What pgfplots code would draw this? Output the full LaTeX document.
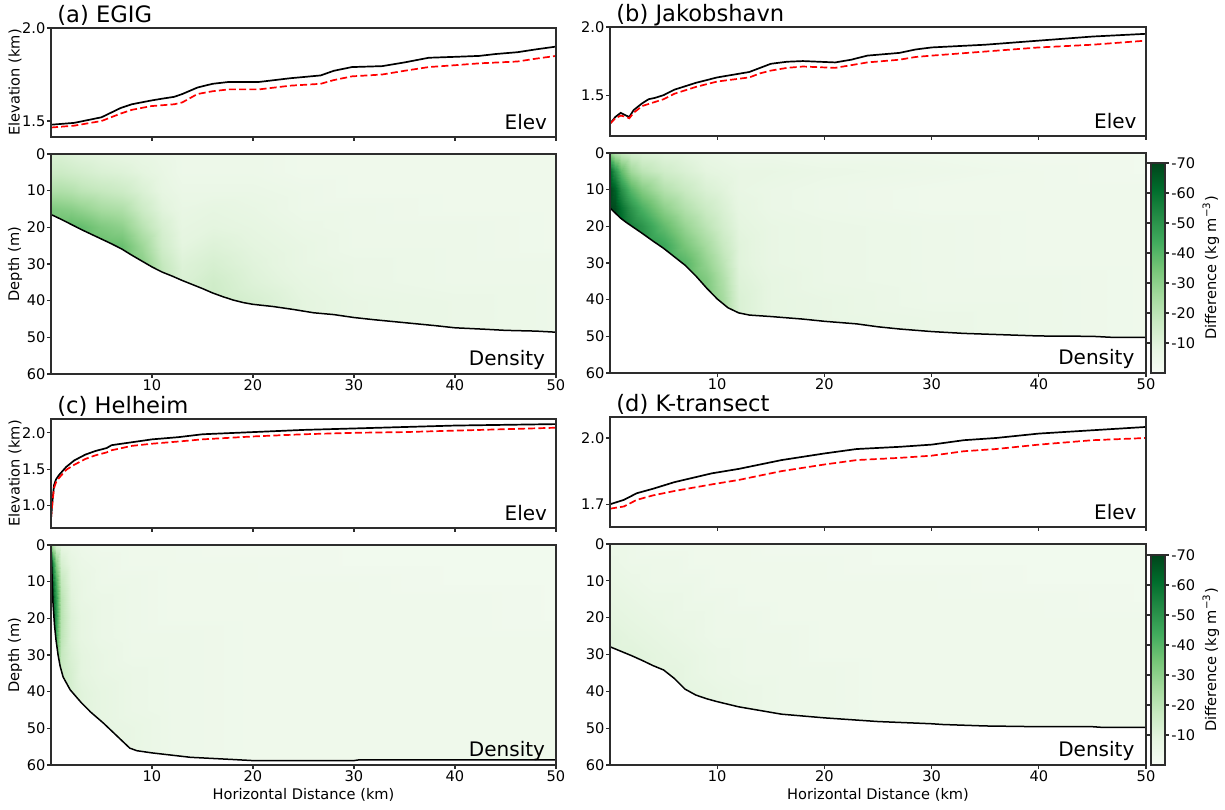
\documentclass[border=0pt]{standalone}
\usepackage{fontspec}
\setmainfont{DejaVu Sans}
\usepackage{pgfplots}
\pgfplotsset{compat=1.18}
\usepackage{pgfplotstable}

\definecolor{spine}{RGB}{45,45,45}

% matplotlib "Greens", reversed so that -70 is the darkest shade
\pgfplotsset{colormap={greensr}{rgb255=(0,68,27) rgb255=(0,109,44) rgb255=(35,139,69)
  rgb255=(65,171,93) rgb255=(116,196,118) rgb255=(161,217,155) rgb255=(199,233,192)
  rgb255=(229,245,224) rgb255=(247,252,245)}}

\newcommand{\smallfont}{\fontsize{7.3}{8.5}\selectfont}

\pgfplotsset{
  panel/.style={
    scale only axis, axis on top,
    axis line style={spine, line width=0.6pt},
    every tick/.style={spine, line width=0.6pt},
    major tick length=1.8pt, tick align=outside,
    xtick pos=bottom, ytick pos=left,
    xmin=0, xmax=50, xtick={10,20,30,40,50},
    tick label style={font=\smallfont},
    xticklabel style={inner sep=0.6pt},
    yticklabel style={inner sep=0.8pt},
    label style={font=\smallfont},
    /pgf/number format/assume math mode=true,
    ylabel style={at={(axis description cs:-0.071,0.5)}, anchor=center},
    every axis title/.style={at={(axis description cs:0,1)}, anchor=base west, inner sep=0,
      xshift=3pt, yshift=3pt, font=\fontsize{11.3}{13}\selectfont},
  },
  elev/.style={panel, height=54.5pt, xticklabels={},
    yticklabel style={/pgf/number format/.cd, fixed, fixed zerofill, precision=1}},
  dens/.style={panel, height=110pt, y dir=reverse, ymin=0, ymax=60,
    ytick={0,10,20,30,40,50,60}, colormap name=greensr,
    point meta min=-70, point meta max=0},
  cbar/.style={colorbar, colorbar style={
    at={(parent axis.south east)}, anchor=south west, xshift=-6.03pt,
    scale only axis, width=7pt, height=105pt, y dir=reverse,
    axis line style={spine, line width=0.6pt},
    every tick/.style={spine, line width=0.6pt},
    major tick length=1.8pt, tick align=outside,
    ytick={-70,-60,-50,-40,-30,-20,-10},
    yticklabels={-70,-60,-50,-40,-30,-20,-10},
    yticklabel pos=right, tick label style={font=\smallfont},
    yticklabel style={inner sep=1.2pt},
    ylabel={Difference (kg m\textsuperscript{−3})},
    ylabel style={font=\smallfont, at={(axis description cs:4.28,0.5)}, anchor=center}}},
  blackline/.style={black, line width=0.85pt},
  redline/.style={red, line width=0.85pt, dash pattern=on 3.5pt off 1.6pt},
  bline/.style={black, line width=0.75pt},
}

\newcommand{\elevtag}{\node[anchor=base east, inner sep=0, font=\fontsize{10}{12}\selectfont] at (rel axis cs:0.983,0.07) {Elev};}
\newcommand{\denstag}{\node[anchor=base east, inner sep=0, font=\fontsize{10}{12}\selectfont] at (rel axis cs:0.979,0.04) {Density};}

% ---------- density difference fields (kg m^-3), x = distance (km), d = depth (m)
\pgfplotstableread[row sep=\\]{
x d v\\
0 0 -12\\ 1 0 -12\\ 2 0 -11\\ 3 0 -10\\ 5 0 -9\\ 7 0 -8\\ 9 0 -7\\ 11 0 -6\\ 13 0 -5\\ 16 0 -5\\ 20 0 -5\\ 25 0 -4\\ 30 0 -4\\ 40 0 -4\\ 50 0 -4\\
0 5 -16\\ 1 5 -16\\ 2 5 -15\\ 3 5 -14\\ 5 5 -12\\ 7 5 -11\\ 9 5 -9\\ 11 5 -7\\ 13 5 -5\\ 16 5 -5\\ 20 5 -5\\ 25 5 -4\\ 30 5 -4\\ 40 5 -4\\ 50 5 -4\\
0 10 -23\\ 1 10 -23\\ 2 10 -22\\ 3 10 -20\\ 5 10 -18\\ 7 10 -16\\ 9 10 -12\\ 11 10 -8\\ 13 10 -6\\ 16 10 -6\\ 20 10 -6\\ 25 10 -5\\ 30 10 -4\\ 40 10 -4\\ 50 10 -4\\
0 15 -33\\ 1 15 -32\\ 2 15 -31\\ 3 15 -29\\ 5 15 -25\\ 7 15 -23\\ 9 15 -16\\ 11 15 -10\\ 13 15 -7\\ 16 15 -8\\ 20 15 -7\\ 25 15 -5\\ 30 15 -5\\ 40 15 -4\\ 50 15 -4\\
0 20 -36\\ 1 20 -38\\ 2 20 -39\\ 3 20 -38\\ 5 20 -33\\ 7 20 -30\\ 9 20 -21\\ 11 20 -13\\ 13 20 -8\\ 16 20 -9\\ 20 20 -8\\ 25 20 -6\\ 30 20 -5\\ 40 20 -5\\ 50 20 -4\\
0 25 -36\\ 1 25 -38\\ 2 25 -39\\ 3 25 -39\\ 5 25 -38\\ 7 25 -37\\ 9 25 -27\\ 11 25 -15\\ 13 25 -9\\ 16 25 -11\\ 20 25 -9\\ 25 25 -7\\ 30 25 -5\\ 40 25 -5\\ 50 25 -4\\
0 30 -36\\ 1 30 -38\\ 2 30 -39\\ 3 30 -39\\ 5 30 -38\\ 7 30 -38\\ 9 30 -31\\ 11 30 -18\\ 13 30 -11\\ 16 30 -13\\ 20 30 -10\\ 25 30 -7\\ 30 30 -6\\ 40 30 -5\\ 50 30 -5\\
0 35 -36\\ 1 35 -38\\ 2 35 -39\\ 3 35 -39\\ 5 35 -38\\ 7 35 -38\\ 9 35 -31\\ 11 35 -20\\ 13 35 -12\\ 16 35 -15\\ 20 35 -11\\ 25 35 -8\\ 30 35 -6\\ 40 35 -5\\ 50 35 -5\\
0 40 -36\\ 1 40 -38\\ 2 40 -39\\ 3 40 -39\\ 5 40 -38\\ 7 40 -38\\ 9 40 -31\\ 11 40 -20\\ 13 40 -12\\ 16 40 -16\\ 20 40 -13\\ 25 40 -9\\ 30 40 -7\\ 40 40 -6\\ 50 40 -5\\
0 45 -36\\ 1 45 -38\\ 2 45 -39\\ 3 45 -39\\ 5 45 -38\\ 7 45 -38\\ 9 45 -31\\ 11 45 -20\\ 13 45 -12\\ 16 45 -16\\ 20 45 -13\\ 25 45 -9\\ 30 45 -7\\ 40 45 -6\\ 50 45 -5\\
0 50 -36\\ 1 50 -38\\ 2 50 -39\\ 3 50 -39\\ 5 50 -38\\ 7 50 -38\\ 9 50 -31\\ 11 50 -20\\ 13 50 -12\\ 16 50 -16\\ 20 50 -13\\ 25 50 -9\\ 30 50 -7\\ 40 50 -6\\ 50 50 -5\\
}\gridA

\pgfplotstableread[row sep=\\]{
x d v\\
0 0 -30\\ 0.5 0 -22\\ 1 0 -18\\ 2 0 -14\\ 3 0 -12\\ 5 0 -10\\ 7 0 -9\\ 9 0 -7\\ 10.5 0 -6\\ 12 0 -5\\ 15 0 -5\\ 20 0 -4\\ 30 0 -4\\ 40 0 -3\\ 50 0 -3\\
0 5 -62\\ 0.5 5 -50\\ 1 5 -38\\ 2 5 -26\\ 3 5 -20\\ 5 5 -15\\ 7 5 -12\\ 9 5 -9\\ 10.5 5 -8\\ 12 5 -7\\ 15 5 -7\\ 20 5 -6\\ 30 5 -5\\ 40 5 -4\\ 50 5 -3\\
0 10 -70\\ 0.5 10 -64\\ 1 10 -52\\ 2 10 -40\\ 3 10 -32\\ 5 10 -22\\ 7 10 -17\\ 9 10 -12\\ 10.5 10 -10\\ 12 10 -7\\ 15 10 -6\\ 20 10 -5\\ 30 10 -4\\ 40 10 -4\\ 50 10 -4\\
0 15 -70\\ 0.5 15 -68\\ 1 15 -60\\ 2 15 -50\\ 3 15 -42\\ 5 15 -30\\ 7 15 -22\\ 9 15 -16\\ 10.5 15 -12\\ 12 15 -8\\ 15 15 -6\\ 20 15 -5\\ 30 15 -4\\ 40 15 -4\\ 50 15 -4\\
0 20 -70\\ 0.5 20 -68\\ 1 20 -62\\ 2 20 -55\\ 3 20 -50\\ 5 20 -38\\ 7 20 -28\\ 9 20 -20\\ 10.5 20 -14\\ 12 20 -9\\ 15 20 -7\\ 20 20 -6\\ 30 20 -5\\ 40 20 -4\\ 50 20 -4\\
0 25 -70\\ 0.5 25 -68\\ 1 25 -62\\ 2 25 -55\\ 3 25 -52\\ 5 25 -45\\ 7 25 -34\\ 9 25 -25\\ 10.5 25 -17\\ 12 25 -10\\ 15 25 -7\\ 20 25 -6\\ 30 25 -5\\ 40 25 -4\\ 50 25 -4\\
0 30 -70\\ 0.5 30 -68\\ 1 30 -62\\ 2 30 -55\\ 3 30 -52\\ 5 30 -46\\ 7 30 -40\\ 9 30 -29\\ 10.5 30 -20\\ 12 30 -10\\ 15 30 -7\\ 20 30 -6\\ 30 30 -5\\ 40 30 -4\\ 50 30 -4\\
0 35 -70\\ 0.5 35 -68\\ 1 35 -62\\ 2 35 -55\\ 3 35 -52\\ 5 35 -46\\ 7 35 -40\\ 9 35 -33\\ 10.5 35 -23\\ 12 35 -11\\ 15 35 -8\\ 20 35 -6\\ 30 35 -5\\ 40 35 -5\\ 50 35 -4\\
0 40 -70\\ 0.5 40 -68\\ 1 40 -62\\ 2 40 -55\\ 3 40 -52\\ 5 40 -46\\ 7 40 -40\\ 9 40 -34\\ 10.5 40 -25\\ 12 40 -12\\ 15 40 -8\\ 20 40 -7\\ 30 40 -5\\ 40 40 -5\\ 50 40 -4\\
0 45 -70\\ 0.5 45 -68\\ 1 45 -62\\ 2 45 -55\\ 3 45 -52\\ 5 45 -46\\ 7 45 -40\\ 9 45 -34\\ 10.5 45 -25\\ 12 45 -12\\ 15 45 -8\\ 20 45 -7\\ 30 45 -6\\ 40 45 -5\\ 50 45 -4\\
0 50 -70\\ 0.5 50 -68\\ 1 50 -62\\ 2 50 -55\\ 3 50 -52\\ 5 50 -46\\ 7 50 -40\\ 9 50 -34\\ 10.5 50 -25\\ 12 50 -12\\ 15 50 -8\\ 20 50 -7\\ 30 50 -6\\ 40 50 -5\\ 50 50 -4\\
0 55 -70\\ 0.5 55 -68\\ 1 55 -62\\ 2 55 -55\\ 3 55 -52\\ 5 55 -46\\ 7 55 -40\\ 9 55 -34\\ 10.5 55 -25\\ 12 55 -12\\ 15 55 -8\\ 20 55 -7\\ 30 55 -6\\ 40 55 -5\\ 50 55 -4\\
}\gridB

\pgfplotstableread[row sep=\\]{
x d v\\
0 0 -30\\ 0.2 0 -20\\ 0.5 0 -12\\ 1 0 -8\\ 2 0 -6\\ 3 0 -5\\ 5 0 -4\\ 8 0 -4\\ 12 0 -4\\ 20 0 -3\\ 30 0 -3\\ 40 0 -3\\ 50 0 -3\\
0 5 -62\\ 0.2 5 -50\\ 0.5 5 -30\\ 1 5 -13\\ 2 5 -8\\ 3 5 -6\\ 5 5 -5\\ 8 5 -4\\ 12 5 -4\\ 20 5 -4\\ 30 5 -3\\ 40 5 -3\\ 50 5 -3\\
0 10 -70\\ 0.2 10 -60\\ 0.5 10 -42\\ 1 10 -18\\ 2 10 -9\\ 3 10 -7\\ 5 10 -5\\ 8 10 -5\\ 12 10 -4\\ 20 10 -4\\ 30 10 -4\\ 40 10 -3\\ 50 10 -3\\
0 15 -70\\ 0.2 15 -62\\ 0.5 15 -48\\ 1 15 -21\\ 2 15 -10\\ 3 15 -7\\ 5 15 -6\\ 8 15 -5\\ 12 15 -4\\ 20 15 -4\\ 30 15 -4\\ 40 15 -4\\ 50 15 -3\\
0 20 -70\\ 0.2 20 -62\\ 0.5 20 -48\\ 1 20 -21\\ 2 20 -11\\ 3 20 -8\\ 5 20 -6\\ 8 20 -5\\ 12 20 -4\\ 20 20 -4\\ 30 20 -4\\ 40 20 -4\\ 50 20 -3\\
0 25 -68\\ 0.2 25 -60\\ 0.5 25 -44\\ 1 25 -20\\ 2 25 -11\\ 3 25 -8\\ 5 25 -6\\ 8 25 -5\\ 12 25 -5\\ 20 25 -4\\ 30 25 -4\\ 40 25 -4\\ 50 25 -4\\
0 30 -65\\ 0.2 30 -58\\ 0.5 30 -40\\ 1 30 -18\\ 2 30 -12\\ 3 30 -9\\ 5 30 -7\\ 8 30 -5\\ 12 30 -5\\ 20 30 -4\\ 30 30 -4\\ 40 30 -4\\ 50 30 -4\\
0 35 -65\\ 0.2 35 -58\\ 0.5 35 -40\\ 1 35 -17\\ 2 35 -13\\ 3 35 -9\\ 5 35 -7\\ 8 35 -6\\ 12 35 -5\\ 20 35 -4\\ 30 35 -4\\ 40 35 -4\\ 50 35 -4\\
0 40 -65\\ 0.2 40 -58\\ 0.5 40 -40\\ 1 40 -17\\ 2 40 -13\\ 3 40 -10\\ 5 40 -8\\ 8 40 -6\\ 12 40 -5\\ 20 40 -4\\ 30 40 -4\\ 40 40 -4\\ 50 40 -4\\
0 45 -65\\ 0.2 45 -58\\ 0.5 45 -40\\ 1 45 -17\\ 2 45 -13\\ 3 45 -10\\ 5 45 -8\\ 8 45 -6\\ 12 45 -5\\ 20 45 -4\\ 30 45 -4\\ 40 45 -4\\ 50 45 -4\\
0 50 -65\\ 0.2 50 -58\\ 0.5 50 -40\\ 1 50 -17\\ 2 50 -13\\ 3 50 -10\\ 5 50 -8\\ 8 50 -7\\ 12 50 -5\\ 20 50 -4\\ 30 50 -4\\ 40 50 -4\\ 50 50 -4\\
0 55 -65\\ 0.2 55 -58\\ 0.5 55 -40\\ 1 55 -17\\ 2 55 -13\\ 3 55 -10\\ 5 55 -8\\ 8 55 -7\\ 12 55 -5\\ 20 55 -4\\ 30 55 -4\\ 40 55 -4\\ 50 55 -4\\
0 60 -65\\ 0.2 60 -58\\ 0.5 60 -40\\ 1 60 -17\\ 2 60 -13\\ 3 60 -10\\ 5 60 -8\\ 8 60 -7\\ 12 60 -5\\ 20 60 -4\\ 30 60 -4\\ 40 60 -4\\ 50 60 -4\\
}\gridC

\pgfplotstableread[row sep=\\]{
x d v\\
0 0 -5\\ 2 0 -5\\ 4 0 -4\\ 6 0 -4\\ 8 0 -4\\ 10 0 -4\\ 13 0 -4\\ 16 0 -3\\ 20 0 -3\\ 25 0 -3\\ 30 0 -3\\ 40 0 -3\\ 50 0 -3\\
0 5 -6\\ 2 5 -5\\ 4 5 -5\\ 6 5 -5\\ 8 5 -4\\ 10 5 -4\\ 13 5 -4\\ 16 5 -4\\ 20 5 -4\\ 25 5 -3\\ 30 5 -3\\ 40 5 -3\\ 50 5 -3\\
0 10 -7\\ 2 10 -6\\ 4 10 -5\\ 6 10 -5\\ 8 10 -5\\ 10 10 -4\\ 13 10 -4\\ 16 10 -4\\ 20 10 -4\\ 25 10 -4\\ 30 10 -4\\ 40 10 -3\\ 50 10 -3\\
0 15 -8\\ 2 15 -7\\ 4 15 -6\\ 6 15 -6\\ 8 15 -5\\ 10 15 -5\\ 13 15 -4\\ 16 15 -4\\ 20 15 -4\\ 25 15 -4\\ 30 15 -4\\ 40 15 -4\\ 50 15 -3\\
0 20 -9\\ 2 20 -8\\ 4 20 -7\\ 6 20 -6\\ 8 20 -6\\ 10 20 -5\\ 13 20 -5\\ 16 20 -4\\ 20 20 -4\\ 25 20 -4\\ 30 20 -4\\ 40 20 -4\\ 50 20 -4\\
0 25 -10\\ 2 25 -9\\ 4 25 -8\\ 6 25 -7\\ 8 25 -6\\ 10 25 -5\\ 13 25 -5\\ 16 25 -5\\ 20 25 -4\\ 25 25 -4\\ 30 25 -4\\ 40 25 -4\\ 50 25 -4\\
0 30 -10\\ 2 30 -10\\ 4 30 -9\\ 6 30 -8\\ 8 30 -7\\ 10 30 -6\\ 13 30 -5\\ 16 30 -5\\ 20 30 -4\\ 25 30 -4\\ 30 30 -4\\ 40 30 -4\\ 50 30 -4\\
0 35 -10\\ 2 35 -10\\ 4 35 -9\\ 6 35 -9\\ 8 35 -7\\ 10 35 -6\\ 13 35 -5\\ 16 35 -5\\ 20 35 -5\\ 25 35 -4\\ 30 35 -4\\ 40 35 -4\\ 50 35 -4\\
0 40 -10\\ 2 40 -10\\ 4 40 -9\\ 6 40 -9\\ 8 40 -8\\ 10 40 -7\\ 13 40 -6\\ 16 40 -5\\ 20 40 -5\\ 25 40 -4\\ 30 40 -4\\ 40 40 -4\\ 50 40 -4\\
0 45 -10\\ 2 45 -10\\ 4 45 -9\\ 6 45 -9\\ 8 45 -8\\ 10 45 -7\\ 13 45 -6\\ 16 45 -5\\ 20 45 -5\\ 25 45 -4\\ 30 45 -4\\ 40 45 -4\\ 50 45 -4\\
0 50 -10\\ 2 50 -10\\ 4 50 -9\\ 6 50 -9\\ 8 50 -8\\ 10 50 -7\\ 13 50 -6\\ 16 50 -5\\ 20 50 -5\\ 25 50 -4\\ 30 50 -4\\ 40 50 -4\\ 50 50 -4\\
}\gridD

% ---------- depth of the firn base (m) along each transect
\pgfplotstableread[row sep=\\]{
x d\\ 0 16.5\\ 1 17.8\\ 2 19.2\\ 3 20.6\\ 4 21.9\\ 5 23.2\\ 6 24.5\\ 7 25.9\\ 8 27.6\\ 9 29.2\\ 10 30.8\\ 11 32.2\\ 12 33.3\\ 13 34.5\\ 14 35.6\\ 15 36.7\\ 16 37.9\\ 17 38.9\\ 18 39.8\\ 19 40.5\\ 20 41.0\\ 22 41.6\\ 24 42.4\\ 26 43.3\\ 28 43.8\\ 30 44.6\\ 32 45.2\\ 35 46.0\\ 38 46.8\\ 40 47.4\\ 43 47.8\\ 45 48.1\\ 48 48.3\\ 50 48.6\\
}\bndA
\pgfplotstableread[row sep=\\]{
x d\\ 0 15.0\\ 0.5 16.4\\ 1 17.8\\ 1.5 18.9\\ 2 19.9\\ 3 21.9\\ 4 24.0\\ 5 26.0\\ 6 28.3\\ 7 30.6\\ 8 33.5\\ 9 36.8\\ 10 39.8\\ 11 42.2\\ 12 43.6\\ 13 44.2\\ 15 44.6\\ 18 45.3\\ 20 45.9\\ 23 46.6\\ 25 47.4\\ 27 48.0\\ 30 48.7\\ 33 49.2\\ 35 49.4\\ 40 49.9\\ 45 50.0\\ 47 50.3\\ 50 50.3\\
}\bndB
\pgfplotstableread[row sep=\\]{
x d\\ 0 0\\ 0.1 8\\ 0.2 16\\ 0.35 22\\ 0.5 26\\ 0.7 30\\ 0.9 33\\ 1.2 36\\ 1.9 39.5\\ 3 43\\ 3.9 45.5\\ 5.2 48.6\\ 6.5 52\\ 7.8 55.4\\ 8.5 56.1\\ 10 56.7\\ 13.8 57.9\\ 18 58.5\\ 20 58.8\\ 30 58.8\\ 30.5 58.6\\ 50 58.6\\
}\bndC
\pgfplotstableread[row sep=\\]{
x d\\ 0 27.9\\ 1 29.1\\ 2 30.3\\ 3 31.6\\ 4 33.0\\ 5 34.2\\ 6 36.5\\ 7 39.4\\ 8 41.0\\ 9 42.0\\ 10 42.8\\ 12 44.2\\ 14 45.2\\ 16 46.2\\ 18 46.7\\ 20 47.2\\ 25 48.2\\ 30 48.8\\ 31 49.0\\ 35 49.4\\ 40 49.6\\ 45 49.6\\ 46 49.8\\ 50 49.8\\
}\bndD

\begin{document}
\begin{tikzpicture}
\useasboundingbox (0,0) rectangle (612.5pt,-404.5pt);

% ================= (a) EGIG
\begin{axis}[elev, at={(25.5pt,-14pt)}, anchor=north west, width=252.5pt,
  ymin=1.414, ymax=2.0, ytick={1.5,2.0}, ylabel={Elevation (km)}, title={(a) EGIG}]
\addplot[blackline] coordinates {(0,1.48) (2.3,1.49) (5,1.52) (6.9,1.57) (8,1.59) (9.9,1.61) (11,1.62) (12.2,1.63) (13,1.645) (14.5,1.68) (16,1.70) (17.6,1.71) (20.6,1.71) (23.7,1.73) (26.7,1.745) (28,1.77) (29.8,1.79) (32.8,1.795) (35,1.815) (37.4,1.84) (40,1.845) (42.4,1.85) (44,1.86) (46.2,1.87) (48,1.885) (50,1.90)};
\addplot[redline] coordinates {(0,1.465) (2.3,1.475) (5,1.50) (6.9,1.54) (8,1.56) (9.9,1.58) (12.2,1.59) (13,1.60) (14.5,1.645) (16,1.66) (17.6,1.67) (20.6,1.67) (23.7,1.69) (26.7,1.70) (28,1.72) (29.8,1.74) (32.8,1.75) (35,1.77) (37.4,1.79) (40,1.80) (42.4,1.81) (46.2,1.82) (48,1.835) (50,1.85)};
\elevtag
\end{axis}

\begin{axis}[dens, at={(25.5pt,-77pt)}, anchor=north west, width=252.5pt, ylabel={Depth (m)}]
\addplot[surf, shader=interp, mesh/cols=15, point meta=explicit] table[x=x, y=d, meta=v] {\gridA};
\addplot[fill=white, draw=none] table[x=x, y=d] {\bndA} -- (axis cs:50,60) -- (axis cs:0,60) -- cycle;
\addplot[bline] table[x=x, y=d] {\bndA};
\denstag
\end{axis}

% ================= (b) Jakobshavn
\begin{axis}[elev, at={(305pt,-13.5pt)}, anchor=north west, width=268pt,
  ymin=1.2, ymax=2.0, ytick={1.5,2.0}, title={(b) Jakobshavn}]
\addplot[blackline] coordinates {(0,1.29) (0.5,1.34) (1,1.37) (1.5,1.35) (1.8,1.34) (2.2,1.39) (3,1.44) (3.6,1.47) (4.2,1.48) (5,1.50) (6,1.54) (8,1.59) (10,1.63) (11.5,1.65) (13,1.67) (14,1.70) (15,1.73) (16.5,1.745) (18,1.75) (21,1.74) (22.5,1.76) (24,1.79) (25.5,1.80) (27,1.81) (28.5,1.835) (30,1.85) (35,1.87) (40,1.90) (45,1.93) (50,1.95)};
\addplot[redline] coordinates {(0,1.29) (0.5,1.33) (1,1.35) (1.5,1.34) (1.8,1.33) (2.2,1.37) (3,1.42) (4.2,1.45) (5,1.47) (6,1.51) (8,1.56) (10,1.60) (11.5,1.615) (13,1.63) (14,1.66) (15,1.68) (16.5,1.70) (18,1.71) (21,1.70) (22.5,1.72) (24,1.74) (25.5,1.75) (27,1.76) (28.5,1.78) (30,1.79) (35,1.82) (40,1.85) (45,1.87) (50,1.90)};
\elevtag
\end{axis}

\begin{axis}[dens, cbar, at={(305pt,-76.5pt)}, anchor=north west, width=268pt]
\addplot[surf, shader=interp, mesh/cols=15, point meta=explicit] table[x=x, y=d, meta=v] {\gridB};
\addplot[fill=white, draw=none] table[x=x, y=d] {\bndB} -- (axis cs:50,60) -- (axis cs:0,60) -- cycle;
\addplot[bline] table[x=x, y=d] {\bndB};
\denstag
\end{axis}

% ================= (c) Helheim
\begin{axis}[elev, at={(25.5pt,-209.5pt)}, anchor=north west, width=252.5pt,
  ymin=0.69, ymax=2.19, ytick={1.0,1.5,2.0}, ylabel={Elevation (km)}, title={(c) Helheim}]
\addplot[blackline] coordinates {(0,0.82) (0.15,1.07) (0.3,1.28) (0.5,1.36) (0.8,1.42) (1.5,1.53) (2.3,1.62) (3.4,1.70) (4.4,1.75) (5.5,1.79) (6,1.83) (7,1.85) (8,1.87) (10,1.91) (12.6,1.94) (15,1.98) (20,2.01) (25,2.04) (30,2.06) (35,2.08) (40,2.10) (45,2.11) (50,2.12)};
\addplot[redline] coordinates {(0,0.82) (0.15,1.05) (0.3,1.24) (0.5,1.32) (0.8,1.38) (1.5,1.49) (2.3,1.56) (3.4,1.64) (4.4,1.69) (5.5,1.73) (6,1.76) (7,1.79) (8,1.82) (10,1.85) (12.6,1.88) (15,1.91) (20,1.95) (25,1.98) (30,2.00) (35,2.01) (40,2.03) (45,2.05) (50,2.07)};
\elevtag
\end{axis}

\begin{axis}[dens, at={(25.5pt,-272.5pt)}, anchor=north west, width=252.5pt,
  ylabel={Depth (m)}, xlabel={Horizontal Distance (km)},
  xlabel style={at={(axis description cs:0.5,0)}, yshift=-15pt, anchor=center}]
\addplot[surf, shader=interp, mesh/cols=13, point meta=explicit] table[x=x, y=d, meta=v] {\gridC};
\addplot[fill=white, draw=none] table[x=x, y=d] {\bndC} -- (axis cs:50,60) -- (axis cs:0,60) -- cycle;
\addplot[bline] table[x=x, y=d] {\bndC};
\denstag
\end{axis}

% ================= (d) K-transect
\begin{axis}[elev, at={(305pt,-208.5pt)}, anchor=north west, width=268pt, height=55pt,
  ymin=1.597, ymax=2.095, ytick={1.7,2.0}, title={(d) K-transect}]
\addplot[blackline] coordinates {(0,1.70) (1.3,1.72) (2.5,1.75) (4,1.77) (6,1.80) (9.5,1.84) (12,1.86) (14,1.88) (16,1.90) (20,1.93) (23,1.95) (27,1.96) (30,1.97) (33,1.99) (36,2.00) (40,2.02) (45,2.035) (50,2.05)};
\addplot[redline] coordinates {(0,1.68) (1.3,1.69) (2.5,1.72) (4,1.74) (6,1.76) (9.5,1.79) (12,1.81) (14,1.83) (16,1.85) (20,1.88) (23,1.90) (27,1.91) (30,1.92) (33,1.94) (36,1.95) (40,1.97) (45,1.99) (50,2.00)};
\elevtag
\end{axis}

\begin{axis}[dens, cbar, at={(305pt,-272pt)}, anchor=north west, width=268pt, height=110.5pt,
  xlabel={Horizontal Distance (km)},
  xlabel style={at={(axis description cs:0.5,0)}, yshift=-15pt, anchor=center}]
\addplot[surf, shader=interp, mesh/cols=13, point meta=explicit] table[x=x, y=d, meta=v] {\gridD};
\addplot[fill=white, draw=none] table[x=x, y=d] {\bndD} -- (axis cs:50,60) -- (axis cs:0,60) -- cycle;
\addplot[bline] table[x=x, y=d] {\bndD};
\denstag
\end{axis}
\end{tikzpicture}
\end{document}
